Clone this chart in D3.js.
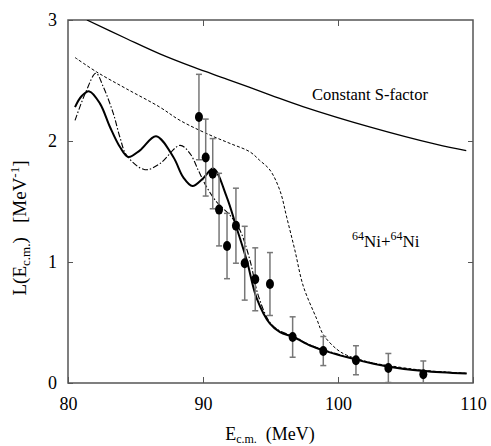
<!DOCTYPE html>
<html>
<head>
<meta charset="utf-8">
<script src="https://cdn.jsdelivr.net/npm/d3@7"></script>
<style>
  body { margin: 0; background: #fff; }
  svg text { font-family: "Liberation Serif", "DejaVu Serif", "Noto Serif", "Times New Roman", serif !important; fill: #000; }
</style>
</head>
<body>
<div id="chart"></div>
<script>
// --- data ---
const expE   = [89.70, 90.20, 90.72, 91.19, 91.78, 92.44, 93.09, 93.87, 94.96, 96.64, 98.91, 101.33, 103.73, 106.32];
const expL   = [2.198, 1.863, 1.730, 1.433, 1.132, 1.300, 0.990, 0.857, 0.818, 0.380, 0.264, 0.188, 0.124, 0.072];
const expErr = [0.353, 0.318, 0.290, 0.300, 0.270, 0.310, 0.305, 0.260, 0.260, 0.167, 0.120, 0.120, 0.120, 0.110];

const constE = [81.4, 84.35, 86.8, 89.3, 91.8, 95.0, 97.4, 102.4, 107.3, 109.5];
const constL = [3.0, 2.845, 2.72, 2.61, 2.51, 2.38, 2.285, 2.115, 1.972, 1.92];

const solidE = [80.52, 81.0, 81.58, 82.37, 83.11, 83.85, 84.47, 85.33, 86.52, 87.8, 88.54, 89.22, 90.0, 90.76, 91.76, 92.44, 93.24, 93.98, 94.96, 95.7, 96.7, 97.93, 98.91, 101.33, 103.73, 106.32, 109.53];
const solidL = [2.28, 2.37, 2.41, 2.309, 2.116, 1.95, 1.868, 1.923, 2.039, 1.868, 1.70, 1.628, 1.69, 1.772, 1.537, 1.30, 1.014, 0.70, 0.49, 0.42, 0.38, 0.31, 0.27, 0.193, 0.135, 0.10, 0.078];

const dashDotE = [80.52, 81.3, 82.07, 82.62, 83.36, 83.85, 84.35, 85.7, 86.81, 88.3, 89.04, 89.65, 90.27, 91.01, 92.0, 92.74, 93.48, 94.1, 94.96, 95.7, 96.7, 97.93, 98.91, 101.33, 103.73, 106.32, 109.53];
const dashDotL = [2.17, 2.40, 2.56, 2.446, 2.226, 2.03, 1.88, 1.763, 1.813, 1.964, 1.896, 1.758, 1.62, 1.496, 1.386, 1.262, 1.014, 0.72, 0.50, 0.43, 0.385, 0.315, 0.275, 0.198, 0.138, 0.102, 0.08];

const dashE = [80.52, 82.13, 84.35, 86.8, 88.3, 90.5, 92.0, 93.48, 94.2, 94.96, 95.7, 96.2, 96.8, 97.43, 98.42, 98.91, 99.9, 100.64, 102.4, 104.0, 106.3, 109.53];
const dashL = [2.69, 2.57, 2.43, 2.28, 2.17, 2.05, 1.98, 1.91, 1.84, 1.76, 1.59, 1.37, 1.10, 0.80, 0.53, 0.40, 0.28, 0.23, 0.17, 0.14, 0.105, 0.08];

const xTicks = [80, 90, 100, 110];
const yTicks = [0, 1, 2, 3];

// --- layout ---
const width = 491, height = 446;
const margin = { left: 68, right: 18, top: 20, bottom: 63 };
const serif = '"Liberation Serif", "DejaVu Serif", "Noto Serif", "Times New Roman", serif';

const svg = d3.select("#chart").append("svg")
    .attr("width", width)
    .attr("height", height);

const x = d3.scaleLinear().domain([80, 110]).range([margin.left, width - margin.right]);
const y = d3.scaleLinear().domain([0, 3]).range([height - margin.bottom, margin.top]);

svg.append("clipPath").attr("id", "plotClip")
  .append("rect")
    .attr("x", x(80)).attr("y", y(3))
    .attr("width", x(110) - x(80)).attr("height", y(0) - y(3));

// --- frame + inward ticks ---
const frameColor = "#555";
svg.append("rect")
    .attr("x", x(80)).attr("y", y(3))
    .attr("width", x(110) - x(80)).attr("height", y(0) - y(3))
    .attr("fill", "none")
    .attr("stroke", frameColor)
    .attr("stroke-width", 1.5);

svg.append("g")
    .attr("transform", `translate(0,${y(0)})`)
    .call(d3.axisBottom(x).tickValues(xTicks).tickSizeInner(-6).tickSizeOuter(0).tickPadding(14).tickFormat(d3.format("d")))
    .attr("font-family", serif)
    .call(g => g.select(".domain").remove())
    .call(g => g.selectAll("line").attr("stroke", frameColor))
    .call(g => g.selectAll("text").style("font-size", "18px"));

svg.append("g")
    .attr("transform", `translate(0,${y(3)})`)
    .call(d3.axisTop(x).tickValues([90, 100]).tickSizeInner(-6).tickSizeOuter(0).tickFormat(""))
    .call(g => g.select(".domain").remove())
    .call(g => g.selectAll("line").attr("stroke", frameColor));

svg.append("g")
    .attr("transform", `translate(${x(80)},0)`)
    .call(d3.axisLeft(y).tickValues(yTicks).tickSizeInner(-5).tickSizeOuter(0).tickPadding(11).tickFormat(d3.format("d")))
    .attr("font-family", serif)
    .call(g => g.select(".domain").remove())
    .call(g => g.selectAll("line").attr("stroke", frameColor))
    .call(g => g.selectAll("text").style("font-size", "18px"));

svg.append("g")
    .attr("transform", `translate(${x(110)},0)`)
    .call(d3.axisRight(y).tickValues([1, 2]).tickSizeInner(-5).tickSizeOuter(0).tickFormat(""))
    .call(g => g.select(".domain").remove())
    .call(g => g.selectAll("line").attr("stroke", frameColor));

// --- curves ---
const plot = svg.append("g").attr("clip-path", "url(#plotClip)");

function drawCurve(es, ls, opts) {
  const line = d3.line()
      .x((d, i) => x(es[i]))
      .y(d => y(d))
      .curve(d3.curveCatmullRom.alpha(0.5));
  plot.append("path")
      .datum(ls)
      .attr("d", line)
      .attr("fill", "none")
      .attr("stroke", "#000")
      .attr("stroke-width", opts.w)
      .attr("stroke-dasharray", opts.dash || null);
}

drawCurve(constE, constL, { w: 1.3 });
drawCurve(dashE, dashL, { w: 1, dash: "3,2" });
drawCurve(dashDotE, dashDotL, { w: 1.1, dash: "6,2,1.5,2" });
drawCurve(solidE, solidL, { w: 2 });

// --- data points with error bars ---
const pts = expE.map((e, i) => ({ e, l: expL[i], err: expErr[i] }));
const bars = plot.append("g").attr("stroke", "#777").attr("stroke-width", 1.5);

bars.selectAll(".bar").data(pts).enter().append("line")
    .attr("x1", d => x(d.e)).attr("x2", d => x(d.e))
    .attr("y1", d => y(d.l + d.err)).attr("y2", d => y(d.l - d.err));
bars.selectAll(".capTop").data(pts).enter().append("line")
    .attr("x1", d => x(d.e) - 3).attr("x2", d => x(d.e) + 3)
    .attr("y1", d => y(d.l + d.err)).attr("y2", d => y(d.l + d.err));
bars.selectAll(".capBot").data(pts).enter().append("line")
    .attr("x1", d => x(d.e) - 3).attr("x2", d => x(d.e) + 3)
    .attr("y1", d => y(d.l - d.err)).attr("y2", d => y(d.l - d.err));

plot.selectAll(".pt").data(pts).enter().append("ellipse")
    .attr("cx", d => x(d.e)).attr("cy", d => y(d.l))
    .attr("rx", 4).attr("ry", 5)
    .attr("fill", "#000");

// --- labels ---
svg.append("text")
    .attr("x", 312).attr("y", 100)
    .style("font-size", "16.5px")
    .text("Constant S-factor");

const nuc = svg.append("text")
    .attr("x", 352).attr("y", 247)
    .style("font-size", "17px");
nuc.append("tspan").attr("dy", -7).style("font-size", "12px").text("64");
nuc.append("tspan").attr("dy", 7).text("Ni+");
nuc.append("tspan").attr("dy", -7).style("font-size", "12px").text("64");
nuc.append("tspan").attr("dy", 7).text("Ni");

const xl = svg.append("text")
    .attr("x", 270).attr("y", 440)
    .attr("text-anchor", "middle")
    .style("font-size", "18px");
xl.append("tspan").text("E");
xl.append("tspan").attr("dy", 3).style("font-size", "12px").text("c.m.");
xl.append("tspan").attr("dy", -3).text("\u00a0\u00a0(MeV)");

const yl = svg.append("text")
    .attr("transform", `translate(26,228) rotate(-90)`)
    .attr("text-anchor", "middle")
    .style("font-size", "19px");
yl.append("tspan").text("L(E");
yl.append("tspan").attr("dy", 4).style("font-size", "13px").text("c.m.");
yl.append("tspan").attr("dy", -4).text(")\u00a0\u00a0\u00a0[MeV");
yl.append("tspan").attr("dy", -7).style("font-size", "13px").text("-1");
yl.append("tspan").attr("dy", 7).text("]");
</script>
</body>
</html>
